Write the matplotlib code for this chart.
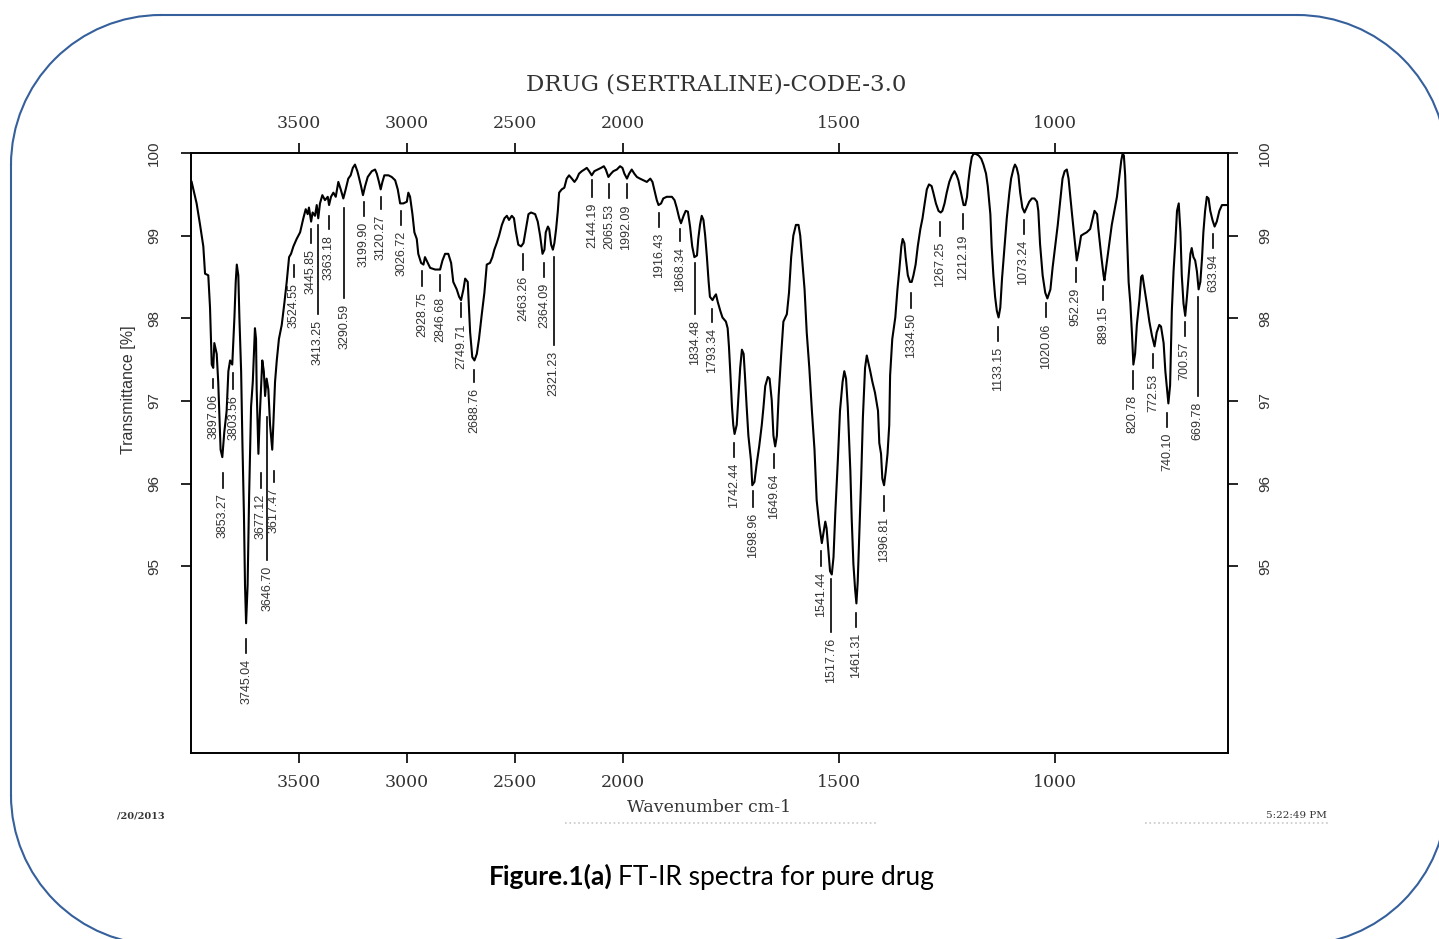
import numpy as np
import matplotlib.pyplot as plt
from matplotlib.patches import Arc

# spectrum (wavenumber cm-1, transmittance %)
wavenumber = [
    3997, 3974, 3958, 3943, 3935, 3920, 3912, 3904, 3897, 3892, 3881, 3874, 3863, 3855, 3846,
    3835, 3827, 3819, 3809, 3799, 3793, 3788, 3781, 3776, 3768, 3762, 3755, 3750, 3745, 3738,
    3731, 3722, 3714, 3704, 3699, 3696, 3688, 3682, 3676, 3670, 3663, 3657, 3650, 3642, 3634,
    3624, 3619, 3611, 3603, 3593, 3580, 3568, 3557, 3546, 3537, 3526, 3511, 3495, 3480, 3469,
    3460, 3454, 3444, 3437, 3426, 3418, 3411, 3403, 3392, 3380, 3367, 3361, 3352, 3341, 3330,
    3318, 3307, 3295, 3284, 3272, 3261, 3251, 3241, 3230, 3225, 3213, 3204, 3194, 3182, 3163,
    3148, 3140, 3130, 3122, 3114, 3105, 3086, 3071, 3055, 3043, 3032, 3017, 3001, 2994, 2986,
    2975, 2966, 2955, 2948, 2935, 2924, 2917, 2904, 2893, 2870, 2847, 2836, 2824, 2809, 2796,
    2786, 2770, 2759, 2750, 2739, 2731, 2719, 2708, 2698, 2688, 2677, 2667, 2654, 2642, 2631,
    2616, 2605, 2596, 2585, 2574, 2561, 2549, 2538, 2528, 2515, 2505, 2497, 2485, 2472, 2461,
    2450, 2438, 2426, 2407, 2395, 2384, 2373, 2364, 2358, 2348, 2342, 2333, 2325, 2318, 2310,
    2302, 2296, 2284, 2272, 2261, 2250, 2237, 2225, 2214, 2204, 2191, 2179, 2168, 2157, 2145,
    2133, 2117, 2102, 2089, 2080, 2068, 2056, 2045, 2029, 2014, 2003, 1997, 1991, 1986, 1980,
    1974, 1968, 1961, 1953, 1945, 1937, 1932, 1928, 1922, 1918, 1912, 1907, 1899, 1887, 1881,
    1876, 1870, 1866, 1860, 1855, 1850, 1845, 1840, 1835, 1829, 1826, 1822, 1818, 1814, 1810,
    1806, 1802, 1799, 1793, 1789, 1785, 1781, 1775, 1770, 1762, 1758, 1755, 1752, 1748, 1745,
    1742, 1737, 1733, 1729, 1725, 1721, 1718, 1714, 1710, 1704, 1701, 1696, 1691, 1685, 1679,
    1675, 1671, 1665, 1661, 1656, 1652, 1648, 1644, 1640, 1634, 1629, 1621, 1616, 1611, 1606,
    1600, 1594, 1590, 1586, 1580, 1575, 1569, 1563, 1557, 1552, 1546, 1540, 1536, 1532, 1529,
    1525, 1521, 1517, 1513, 1509, 1503, 1498, 1492, 1488, 1484, 1480, 1474, 1471, 1467, 1463,
    1460, 1457, 1454, 1449, 1445, 1440, 1436, 1428, 1423, 1417, 1410, 1407, 1403, 1400, 1396,
    1392, 1388, 1384, 1382, 1377, 1370, 1365, 1361, 1356, 1353, 1349, 1346, 1341, 1336, 1332,
    1328, 1323, 1318, 1312, 1307, 1302, 1297, 1292, 1286, 1282, 1276, 1270, 1265, 1261, 1256,
    1251, 1245, 1239, 1233, 1228, 1224, 1218, 1212, 1208, 1204, 1201, 1197, 1193, 1189, 1184,
    1177, 1171, 1166, 1160, 1156, 1150, 1147, 1143, 1139, 1135, 1131, 1127, 1123, 1117, 1112,
    1106, 1102, 1096, 1093, 1089, 1085, 1081, 1076, 1071, 1066, 1060, 1054, 1048, 1042, 1039,
    1035, 1029, 1023, 1018, 1011, 1006, 1000, 994, 988, 983, 978, 973, 969, 965, 961,
    955, 950, 944, 940, 934, 927, 919, 913, 909, 903, 900, 893, 888, 886, 880,
    875, 869, 863, 857, 852, 847, 844, 841, 838, 834, 830, 826, 822, 819, 815,
    811, 805, 801, 798, 793, 788, 782, 776, 770, 765, 759, 755, 749, 745, 741,
    738, 734, 730, 726, 722, 718, 714, 710, 707, 703, 699, 695, 691, 687, 684,
    680, 676, 672, 668, 664, 660, 657, 653, 649, 645, 641, 636, 631, 626, 620,
    614, 606, 600]
transmittance = [
    99.65, 99.39, 99.13, 98.87, 98.54, 98.52, 98.13, 97.44, 97.40, 97.70, 97.57, 97.23, 96.41, 96.32, 96.62,
    96.88, 97.36, 97.49, 97.44, 98.01, 98.44, 98.65, 98.52, 98.01, 97.36, 96.49, 95.63, 94.77, 94.31, 94.77,
    95.85, 96.93, 97.23, 97.88, 97.75, 97.14, 96.36, 96.80, 97.14, 97.49, 97.36, 97.06, 97.27, 97.14, 96.71,
    96.41, 96.71, 97.23, 97.49, 97.75, 97.92, 98.18, 98.44, 98.74, 98.78, 98.87, 98.96, 99.04, 99.21, 99.32,
    99.26, 99.34, 99.17, 99.28, 99.24, 99.37, 99.21, 99.39, 99.49, 99.43, 99.47, 99.37, 99.47, 99.52, 99.47,
    99.65, 99.56, 99.45, 99.56, 99.69, 99.73, 99.82, 99.86, 99.78, 99.73, 99.60, 99.49, 99.60, 99.71, 99.78,
    99.80, 99.75, 99.65, 99.56, 99.65, 99.73, 99.73, 99.71, 99.67, 99.56, 99.39, 99.39, 99.41, 99.52, 99.47,
    99.26, 99.04, 98.96, 98.78, 98.67, 98.65, 98.74, 98.67, 98.61, 98.59, 98.59, 98.70, 98.78, 98.78, 98.67,
    98.44, 98.35, 98.26, 98.22, 98.35, 98.48, 98.44, 97.83, 97.53, 97.49, 97.57, 97.75, 98.05, 98.31, 98.65,
    98.67, 98.74, 98.83, 98.91, 99.00, 99.13, 99.21, 99.24, 99.19, 99.24, 99.21, 99.06, 98.89, 98.87, 98.91,
    99.08, 99.26, 99.28, 99.26, 99.17, 99.00, 98.78, 98.83, 99.04, 99.11, 99.08, 98.89, 98.83, 98.91, 99.08,
    99.30, 99.52, 99.56, 99.58, 99.69, 99.73, 99.69, 99.65, 99.69, 99.75, 99.78, 99.80, 99.82, 99.78, 99.73,
    99.78, 99.80, 99.82, 99.84, 99.80, 99.71, 99.75, 99.78, 99.80, 99.84, 99.82, 99.75, 99.69, 99.75, 99.80,
    99.75, 99.71, 99.69, 99.67, 99.65, 99.69, 99.65, 99.56, 99.43, 99.37, 99.39, 99.45, 99.47, 99.47, 99.43,
    99.34, 99.21, 99.15, 99.24, 99.30, 99.29, 99.11, 98.87, 98.74, 98.76, 98.96, 99.13, 99.24, 99.19, 99.00,
    98.74, 98.44, 98.26, 98.22, 98.26, 98.29, 98.20, 98.09, 98.01, 97.96, 97.88, 97.66, 97.36, 96.93, 96.71,
    96.60, 96.71, 97.06, 97.40, 97.62, 97.57, 97.31, 96.93, 96.58, 96.28, 95.98, 96.02, 96.23, 96.45, 96.71,
    96.93, 97.18, 97.29, 97.27, 97.01, 96.58, 96.45, 96.58, 97.06, 97.57, 97.96, 98.05, 98.31, 98.74, 99.00,
    99.13, 99.13, 99.00, 98.74, 98.35, 97.83, 97.40, 96.88, 96.41, 95.80, 95.50, 95.28, 95.41, 95.54, 95.46,
    95.20, 94.94, 94.90, 95.11, 95.63, 96.28, 96.88, 97.23, 97.36, 97.27, 96.93, 96.15, 95.59, 95.03, 94.72,
    94.55, 94.81, 95.28, 96.06, 96.80, 97.40, 97.55, 97.36, 97.23, 97.10, 96.88, 96.49, 96.36, 96.06, 95.98,
    96.15, 96.36, 96.71, 97.31, 97.75, 98.01, 98.35, 98.57, 98.87, 98.96, 98.91, 98.74, 98.52, 98.44, 98.44,
    98.52, 98.65, 98.87, 99.08, 99.21, 99.39, 99.56, 99.62, 99.60, 99.52, 99.39, 99.30, 99.28, 99.30, 99.39,
    99.52, 99.65, 99.73, 99.78, 99.73, 99.67, 99.52, 99.37, 99.37, 99.47, 99.65, 99.82, 99.95, 99.99, 99.99,
    99.97, 99.93, 99.86, 99.75, 99.60, 99.26, 98.87, 98.52, 98.26, 98.09, 98.01, 98.13, 98.48, 98.87, 99.21,
    99.52, 99.69, 99.82, 99.86, 99.82, 99.73, 99.52, 99.34, 99.28, 99.34, 99.41, 99.45, 99.45, 99.41, 99.30,
    98.90, 98.52, 98.31, 98.24, 98.35, 98.61, 98.87, 99.13, 99.43, 99.69, 99.78, 99.80, 99.69, 99.47, 99.26,
    98.96, 98.70, 98.87, 99.00, 99.02, 99.04, 99.08, 99.21, 99.30, 99.26, 99.08, 98.74, 98.52, 98.46, 98.70,
    98.91, 99.13, 99.30, 99.47, 99.69, 99.91, 99.99, 99.97, 99.73, 99.04, 98.44, 98.18, 97.79, 97.44, 97.57,
    97.92, 98.22, 98.50, 98.52, 98.35, 98.18, 97.96, 97.79, 97.66, 97.83, 97.92, 97.90, 97.70, 97.36, 97.14,
    96.97, 97.19, 98.09, 98.57, 98.91, 99.30, 99.39, 99.04, 98.52, 98.18, 98.03, 98.26, 98.52, 98.78, 98.85,
    98.74, 98.70, 98.57, 98.35, 98.44, 98.74, 99.04, 99.30, 99.47, 99.45, 99.30, 99.19, 99.11, 99.17, 99.30,
    99.37, 99.37, 99.37]

# peak labels: text, top and bottom of the marker line (in % T)
peak_labels = ['3897.06', '3853.27', '3803.56', '3745.04', '3677.12', '3646.70', '3617.47',
               '3524.55', '3445.85', '3413.25', '3363.18', '3290.59', '3199.90', '3120.27',
               '3026.72', '2928.75', '2846.68', '2749.71', '2688.76', '2463.26', '2364.09',
               '2321.23', '2144.19', '2065.53', '1992.09', '1916.43', '1868.34', '1834.48',
               '1793.34', '1742.44', '1698.96', '1649.64', '1541.44', '1517.76', '1461.31',
               '1396.81', '1334.50', '1267.25', '1212.19', '1133.15', '1073.24', '1020.06',
               '952.29', '889.15', '820.78', '772.53', '740.10', '700.57', '669.78', '633.94']
peak_top = [97.27, 96.13, 97.34, 94.12, 96.13, 96.80, 96.15,
            98.65, 99.08, 99.13, 99.24, 99.34, 99.41, 99.47,
            99.30, 98.57, 98.52, 98.18, 97.38, 98.78, 98.67,
            98.74, 99.67, 99.62, 99.62, 99.28, 99.08, 98.67,
            98.11, 96.49, 95.91, 96.36, 95.18, 94.85, 94.44,
            95.85, 98.31, 99.17, 99.26, 97.90, 99.19, 98.18,
            98.61, 98.39, 97.36, 97.57, 96.86, 97.96, 98.26, 99.02]
peak_bot = [97.16, 95.95, 97.14, 93.95, 95.95, 95.07, 96.02,
            98.50, 98.91, 98.05, 99.08, 98.24, 99.24, 99.32,
            99.13, 98.39, 98.33, 98.01, 97.23, 98.59, 98.50,
            97.68, 99.47, 99.45, 99.45, 99.11, 98.93, 98.05,
            97.96, 96.32, 95.72, 96.19, 95.00, 94.21, 94.27,
            95.67, 98.13, 99.00, 99.08, 97.72, 99.02, 98.01,
            98.44, 98.22, 97.14, 97.40, 96.69, 97.79, 97.06, 98.85]

x_ticks = [3500, 3000, 2500, 2000, 1500, 1000]
y_ticks = [95, 96, 97, 98, 99, 100]


# the instrument doubles the scale below 2000 cm-1
def fwd(x):
    x = np.asarray(x, dtype=float)
    return np.where(x >= 2000, x, 2 * x - 2000)


def inv(u):
    u = np.asarray(u, dtype=float)
    return np.where(u >= 2000, u, (u + 2000) / 2)


W, H = 1439, 939
fig = plt.figure(figsize=(W / 100, H / 100), dpi=100)

# page decoration: rounded blue frame, date/time stamps (pixel coords, y up)
bg = fig.add_axes([0, 0, 1, 1], zorder=0)
bg.set_xlim(0, W)
bg.set_ylim(0, H)
bg.axis('off')
frame_c = '#35609c'
L, R, T, B, rad = 11, 1447, H - 15, -6, 150
bg.plot([L + rad, R - rad], [T, T], color=frame_c, lw=1.5)
bg.plot([L + rad, R - rad], [B, B], color=frame_c, lw=1.5)
bg.plot([L, L], [B + rad, T - rad], color=frame_c, lw=1.5)
bg.plot([R, R], [B + rad, T - rad], color=frame_c, lw=1.5)
for cx, cy, a0 in [(L + rad, T - rad, 90), (R - rad, T - rad, 0),
                   (L + rad, B + rad, 180), (R - rad, B + rad, 270)]:
    bg.add_patch(Arc((cx, cy), 2 * rad, 2 * rad, theta1=a0, theta2=a0 + 90,
                     color=frame_c, lw=1.5))
bg.text(141, H - 816, '/20/2013', fontsize=7, family='DejaVu Serif', fontweight='bold',
        color='#333333', ha='center', va='center')
bg.text(1296, H - 816, '5:22:49 PM', fontsize=7.5, family='DejaVu Serif',
        color='#333333', ha='center', va='center')
bg.plot([565, 877], [H - 823, H - 823], ls=':', lw=1.2, color='#c8c8c8')
bg.plot([1145, 1330], [H - 823, H - 823], ls=':', lw=1.2, color='#c8c8c8')
bg.set_xlim(0, W)
bg.set_ylim(0, H)

ax = fig.add_axes([191 / W, 1 - 753 / H, (1228 - 191) / W, 600 / H], zorder=1)
ax.set_xscale('function', functions=(fwd, inv))
ax.plot(wavenumber, transmittance, color='black', lw=1.5)
ax.set_xlim(4000, 600)
ax.set_ylim(92.74, 100)

for lbl, top, bot in zip(peak_labels, peak_top, peak_bot):
    x = float(lbl)
    ax.plot([x, x], [top, bot], color='black', lw=1.2)
    ax.text(x, bot - 0.07, lbl, rotation=90, ha='center', va='top',
            fontsize=9, family='Liberation Sans', color='#333333')

ax.set_xticks(x_ticks)
ax.set_xticklabels([str(t) for t in x_ticks])
ax.set_yticks(y_ticks)
ax.minorticks_off()
for s in ax.spines.values():
    s.set_linewidth(1.4)
ax.tick_params(axis='x', top=True, labeltop=True, direction='out', length=7, width=1.2,
               labelsize=12.5, labelcolor='#333333', pad=8)
ax.tick_params(axis='y', right=True, labelright=True, direction='out', length=7.5, width=1.2,
               labelsize=11, labelcolor='#333333', pad=14, labelrotation=90)
for lab in ax.get_xticklabels():
    lab.set_family('DejaVu Serif')
for t in ax.xaxis.get_major_ticks():
    t.label2.set_family('DejaVu Serif')
for t in ax.yaxis.get_major_ticks():
    t.label1.set_family('Liberation Sans')
    t.label2.set_family('Liberation Sans')
    t.label1.set_va('center')
    t.label2.set_va('center')

fig.text(716 / W, 1 - 85 / H, 'DRUG (SERTRALINE)-CODE-3.0', ha='center', va='center',
         fontsize=16.5, family='DejaVu Serif', color='#333333')
fig.text(709 / W, 1 - 807 / H, 'Wavenumber cm-1', ha='center', va='center',
         fontsize=12.5, family='DejaVu Serif', color='#333333')
fig.text(128 / W, 1 - 390 / H, 'Transmittance [%]', rotation=90, ha='center', va='center',
         fontsize=11.5, family='Liberation Sans', color='#333333')

# caption: bold part then regular part
cap = fig.text(489 / W, 1 - 885 / H, 'Figure.1(a)', ha='left', va='baseline',
               fontsize=19, family='Lato', fontweight='bold', color='black')
fig.canvas.draw()
bb = cap.get_window_extent()
fig.text(bb.x1 / W + 5 / W, 1 - 885 / H, 'FT-IR spectra for pure drug', ha='left',
         va='baseline', fontsize=19, family='Lato', color='black')

fig.savefig('out.png', dpi=100)
